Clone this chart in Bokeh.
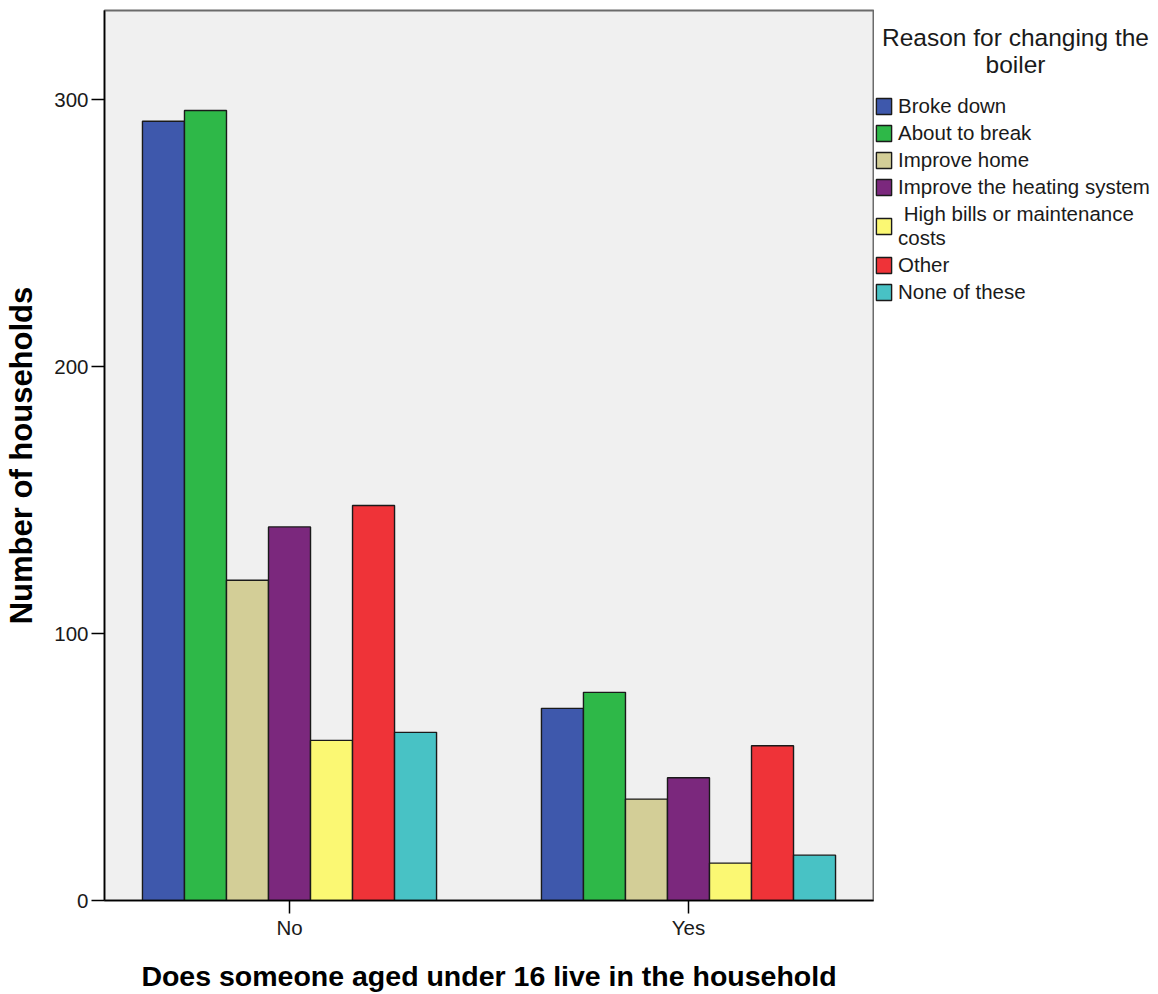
import numpy as np
from bokeh.plotting import figure
from bokeh.layouts import row
from bokeh.models import Range1d, FixedTicker, Legend, LegendItem, Label
from bokeh.embed import file_html
from bokeh.resources import INLINE

groups = ["No", "Yes"]
series = ["Broke down", "About to break", "Improve home", "Improve the heating system",
          " High bills or maintenance\ncosts", "Other", "None of these"]
broke_down = [292, 72]
about_to_break = [296, 78]
improve_home = [120, 38]
improve_heating = [140, 46]
high_bills = [60, 14]
other = [148, 58]
none_of_these = [63, 17]
values = [broke_down, about_to_break, improve_home, improve_heating, high_bills, other, none_of_these]
colors = ["#3E58AC", "#2EB848", "#D3CE97", "#7B287D", "#FBF873", "#EF3338", "#48C2C5"]
y_ticks = [0, 100, 200, 300]
legend_title_lines = ["Reason for changing the", "boiler"]

FONT = "Liberation Sans"

p = figure(width=874, height=994, output_backend="svg", toolbar_location=None,
           x_range=Range1d(-0.4637, 1.4637), y_range=Range1d(0, 333.5),
           min_border_left=104, min_border_top=10, min_border_bottom=94, min_border_right=1)
p.background_fill_color = "#F0F0F0"
p.border_fill_color = "white"
p.outline_line_color = "#6b6b6b"
p.outline_line_width = 2
p.grid.visible = False

bar_w = 0.1053
base = np.arange(len(groups))
for j, (vals, col) in enumerate(zip(values, colors)):
    p.vbar(x=base + (j - 3) * bar_w, top=vals, width=bar_w, bottom=0,
           fill_color=col, line_color="#1a1a1a", line_width=1.4)

p.xaxis.ticker = FixedTicker(ticks=list(base))
p.xaxis.major_label_overrides = {int(i): g for i, g in zip(base, groups)}
p.yaxis.ticker = FixedTicker(ticks=y_ticks)
for ax in (p.xaxis, p.yaxis):
    ax.axis_line_color = "black"
    ax.axis_line_width = 1.5
    ax.major_tick_line_color = "black"
    ax.major_tick_line_width = 1.5
    ax.major_tick_in = 0
    ax.major_tick_out = 13
    ax.minor_tick_line_color = None
    ax.major_label_text_font = FONT
    ax.major_label_text_font_size = "20.5px"
    ax.major_label_text_color = "#1a1a1a"
    ax.axis_label_text_font = FONT
    ax.axis_label_text_font_style = "bold"
    ax.axis_label_text_color = "black"
p.yaxis.axis_label_text_font_size = "31px"
p.xaxis.axis_label_text_font_size = "28.5px"
p.yaxis.major_label_standoff = 3
p.yaxis.axis_label = "Number of households"
p.yaxis.axis_label_standoff = 12
p.xaxis.major_label_standoff = 2
p.xaxis.axis_label = "Does someone aged under 16 live in the household"
p.xaxis.axis_label_standoff = 18

# legend panel (pixel-scaled ranges so the legend can be placed in screen terms)
leg = figure(width=280, height=994, output_backend="svg", toolbar_location=None,
             x_axis_type=None, y_axis_type=None,
             x_range=Range1d(0, 280), y_range=Range1d(0, 890),
             min_border_top=10, min_border_left=0, min_border_right=0, min_border_bottom=94)
leg.outline_line_color = None
leg.grid.visible = False
leg.background_fill_color = "white"
leg.border_fill_color = "white"

for txt, yy in zip(legend_title_lines, [863, 836]):
    leg.add_layout(Label(x=141, y=yy, text=txt, text_align="center", text_baseline="middle",
                         text_font=FONT, text_font_size="24.5px", text_color="#1a1a1a"))

items = []
for name, col in zip(series, colors):
    r = leg.vbar(x=[np.nan], top=[np.nan], width=1, fill_color=col,
                 line_color="#1a1a1a", line_width=1.4)
    items.append(LegendItem(label=name, renderers=[r]))

legend = Legend(items=items, location=(0, 596), padding=0, margin=0,
                glyph_width=19, glyph_height=20, label_standoff=5, spacing=3,
                label_text_font=FONT, label_text_font_size="20.5px", label_text_color="#1a1a1a",
                border_line_alpha=0, background_fill_alpha=0)
leg.add_layout(legend)

layout = row(p, leg, spacing=0)
open("out.html", "w").write(file_html(layout, INLINE))
